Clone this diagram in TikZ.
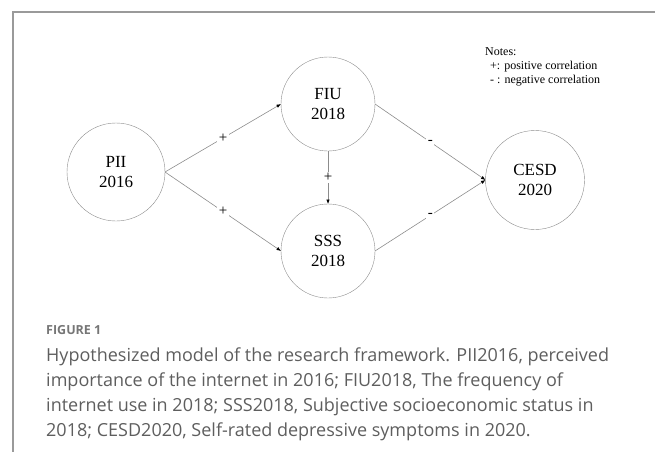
\documentclass[tikz,border=0pt]{standalone}
\usepackage{fontspec}
\setmainfont{Liberation Serif}
\newfontfamily\capfont{Open Sans}
\usepackage{tikz}
\usetikzlibrary{arrows.meta, positioning}
\usepackage{xcolor}
\definecolor{linegray}{HTML}{8C8C8C}
\definecolor{framegray}{HTML}{9A9A9A}
\definecolor{capgray}{HTML}{5E5E5E}

\begin{document}
\begin{tikzpicture}[
		x=1pt, y=-1pt,
		var/.style={draw=linegray, circle, outer sep=0pt, inner sep=0pt, minimum size=96pt, align=center, font=\fontsize{17}{20}\selectfont},
		arrow/.style={-{Latex[length=4.5pt, width=3.5pt, color=black]}, draw=linegray, line width=0.6pt},
		sign/.style={fill=white, inner sep=1.5pt, font=\fontsize{15}{15}\selectfont}
		]
		\useasboundingbox (0,0) rectangle (655,452);
		
		% Frame
		\draw[framegray, line width=1.2pt] (655,12) -- (13,12) -- (13,452);
		
		% Nodes
		\node[var, minimum size=98pt] (pii) at (116,172) {PII\\2016};
		\node[var, minimum size=94pt] (fiu) at (328,104) {FIU\\2018};
		\node[var, minimum size=94pt] (sss) at (328,251) {SSS\\2018};
		\node[var, minimum size=99pt] (cesd) at (535,180) {CESD\\2020};
		
		\node[anchor=north west, align=left, inner sep=0pt, font=\fontsize{12}{14}\selectfont] (notes) at (485,47) {Notes:\\\hspace*{5pt}+: positive correlation\\\hspace*{5pt}- : negative correlation};
		
		% Arrows
		\draw[arrow] (pii.east) -- node[sign] {+} (fiu.west);
		\draw[arrow] (pii.east) -- node[sign] {+} (sss.west);
		\draw[arrow] (fiu.south) -- node[sign] {+} (sss.north);
		\draw[arrow] (fiu.east) -- node[sign] {-} (cesd.west);
		\draw[arrow] (sss.east) -- node[sign] {-} (cesd.west);
		
		% Caption
		\node[anchor=west, inner sep=0pt, text=capgray!85, font=\capfont\bfseries\fontsize{12.5}{14}\selectfont] (figlabel) at (46,330) {FIGURE 1};
		\node[anchor=north west, inner sep=0pt, align=left, text=capgray, font=\capfont\fontsize{18}{25}\selectfont] (caption) at (46,348) {Hypothesized model of the research framework. PII2016, perceived\\importance of the internet in 2016; FIU2018, The frequency of\\internet use in 2018; SSS2018, Subjective socioeconomic status in\\2018; CESD2020, Self-rated depressive symptoms in 2020.};
	\end{tikzpicture}
\end{document}
